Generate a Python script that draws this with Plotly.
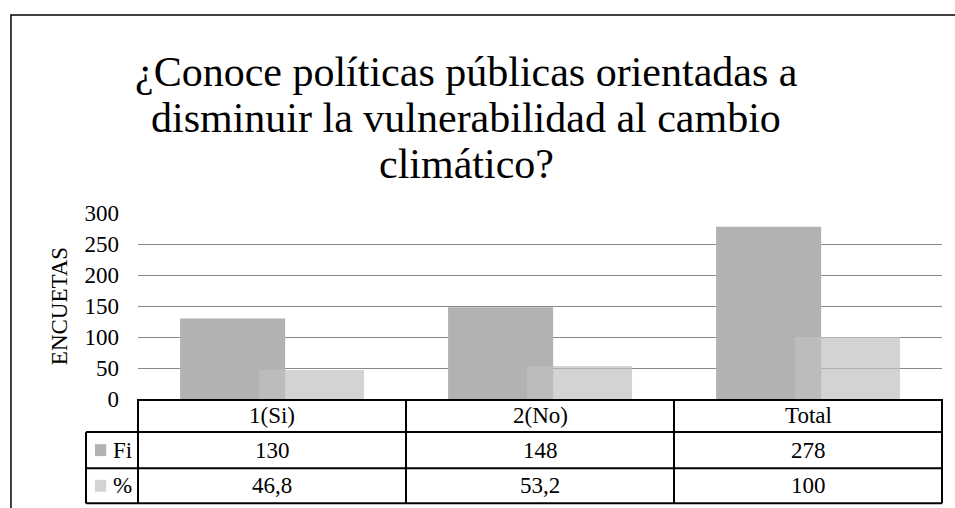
import plotly.graph_objects as go

# data
categories = ["1(Si)", "2(No)", "Total"]
series_names = ["Fi", "%"]
fi_values = [130, 148, 278]
pct_values = [46.8, 53.2, 100]
y_ticks = [0, 50, 100, 150, 200, 250, 300]
title_lines = ["¿Conoce políticas públicas orientadas a",
               "disminuir la vulnerabilidad al cambio",
               "climático?"]

FONT = "Liberation Serif"
FI_COLOR = "#b2b2b2"
PCT_COLOR = "rgba(192,192,192,0.7)"
series_colors = [FI_COLOR, PCT_COLOR]


def fmt(v):
    return f"{v:g}".replace(".", ",")


fig = go.Figure()
bar_w = 0.392
offsets = [-0.343, -0.0485]
for name, vals, col, off in zip(series_names, [fi_values, pct_values], series_colors, offsets):
    fig.add_trace(go.Bar(x=list(range(len(categories))), y=vals, name=name,
                         marker=dict(color=col, line=dict(width=0)),
                         width=bar_w, offset=off, hoverinfo="skip", showlegend=False))

# --- data table under the plot (x in category units, y in y-domain units) ---
row_edges = [0, -0.178, -0.372, -0.561]     # header / Fi / % rows
legend_left = -0.0647                       # left edge of the legend column (x domain)
n = len(categories)
shapes = []
line = dict(color="black", width=2)
for yv in row_edges[1:]:
    shapes.append(dict(type="line", xref="x domain", yref="y domain", x0=legend_left, x1=1,
                       y0=yv, y1=yv, line=line))
for i in range(n + 1):
    shapes.append(dict(type="line", xref="x domain", yref="y domain", x0=i / n, x1=i / n,
                       y0=row_edges[0], y1=row_edges[-1], line=line))
shapes.append(dict(type="line", xref="x domain", yref="y domain", x0=legend_left, x1=legend_left,
                   y0=row_edges[1], y1=row_edges[-1], line=line))
# outer chart border (cropped at right/bottom in the reference)
shapes.append(dict(type="rect", xref="x domain", yref="y domain", x0=-0.158, x1=1.03,
                   y0=-0.7, y1=2.065, line=dict(color="black", width=1.5), fillcolor="rgba(0,0,0,0)"))

annotations = []
row_mid = [(row_edges[j] + row_edges[j + 1]) / 2 for j in range(3)]
tfont = dict(family=FONT, size=23, color="black")
for i, c in enumerate(categories):
    annotations.append(dict(x=i, y=row_mid[0], xref="x", yref="y domain", text=c,
                            xanchor="center", yanchor="middle", showarrow=False, font=tfont))
for j, vals in enumerate([fi_values, pct_values]):
    for i, v in enumerate(vals):
        annotations.append(dict(x=i, y=row_mid[j + 1], xref="x", yref="y domain", text=fmt(v),
                                xanchor="center", yanchor="middle", showarrow=False, font=tfont))
# legend keys in the table
for j, (name, col) in enumerate(zip(series_names, series_colors)):
    yv = row_mid[j + 1]
    shapes.append(dict(type="rect", xref="x domain", yref="y domain",
                       x0=-0.0535, x1=-0.0395, y0=yv - 0.032, y1=yv + 0.032,
                       line=dict(width=0), fillcolor=col))
    annotations.append(dict(x=-0.034, y=yv, xref="x domain", yref="y domain", text=name,
                            showarrow=False, xanchor="left", yanchor="middle", font=tfont))

# chart title, one line per annotation to keep the reference's tight line spacing
for k, txt in enumerate(title_lines):
    annotations.append(dict(x=0.408, y=1.758 - 0.247 * k, xref="paper", yref="paper", text=txt,
                            showarrow=False, xanchor="center", yanchor="middle",
                            font=dict(family=FONT, size=42, color="black")))

fig.update_layout(
    width=955, height=508,
    margin=dict(l=138, r=13, t=213, b=109),
    paper_bgcolor="white", plot_bgcolor="white",
    barmode="overlay",
    font=dict(family=FONT, color="black"),
    xaxis=dict(range=[-0.5, n - 0.5], showticklabels=False, showgrid=False, zeroline=False,
               showline=True, linecolor="black", linewidth=2, fixedrange=True),
    yaxis=dict(range=[0, 300], tickvals=y_ticks, showgrid=True, gridcolor="#888888", gridwidth=1.3,
               zeroline=False, showline=False, ticks="", ticklabelstandoff=18,
               tickfont=dict(family=FONT, size=23, color="black"),
               title=dict(text="ENCUETAS", font=dict(family=FONT, size=23, color="black"), standoff=10),
               fixedrange=True),
    shapes=shapes, annotations=annotations,
)
fig.write_html("out.html", config={"displayModeBar": False},
               post_script="document.body.style.margin='0';")
